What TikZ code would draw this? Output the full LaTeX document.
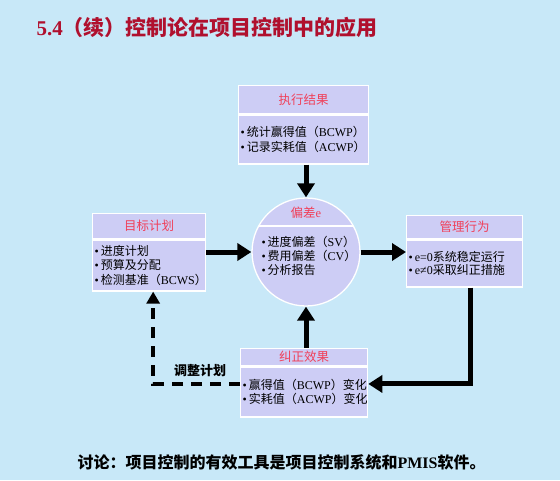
\documentclass[tikz,border=0pt]{standalone}
\usepackage{fontspec}
\setmainfont{Noto Sans CJK SC}
\newfontfamily\lat{Liberation Serif}
\usetikzlibrary{positioning,arrows.meta}
\definecolor{cceeff}{rgb}{0.784,0.910,0.973}
\definecolor{ccccff}{rgb}{0.804,0.804,0.961}
\definecolor{ffzztt}{rgb}{0.941,0.251,0.353}
\definecolor{bbqqzz}{rgb}{0.690,0.063,0.180}
\newcommand{\la}[1]{{\lat #1}}
\newcommand{\bl}{{\lat\textbullet}\,}
\tikzset{
  hdr/.style={draw=white,line width=1.3pt,fill=ccccff,text=ffzztt,inner sep=0pt,font=\fontsize{12.5}{14}\selectfont},
  bodybox/.style={draw=white,line width=1.3pt,fill=ccccff,inner sep=2pt,align=left,font=\fontsize{12}{15.5}\selectfont},
  bigarrow/.style={line width=5pt,-{Triangle[width=17pt,length=14pt]}},
  dasharrow/.style={line width=4pt,dash pattern=on 11pt off 8pt,-{Triangle[width=13pt,length=12pt]}}
}
\begin{document}
\begin{tikzpicture}[line cap=butt,line join=miter,x=1pt,y=-1pt]
\fill[cceeff] (0,0) rectangle (560,480);
\useasboundingbox (0,0) rectangle (560,480);
% title
\node[anchor=west,text=bbqqzz,font=\fontsize{21}{24}\selectfont\bfseries] (title) at (33,27) {\la{5.4}（续）控制论在项目控制中的应用};
% boxes
\node[hdr,minimum width=130pt,minimum height=28pt,anchor=north west] (resulthdr) at (238,85) {执行结果};
\node[bodybox,minimum width=130pt,minimum height=49pt,text width=126pt,below=0pt of resulthdr] (result) {\bl 统计赢得值（\la{BCWP}）\\[-1pt]\bl 记录实耗值（\la{ACWP}）};
\node[hdr,minimum width=113pt,minimum height=25pt,anchor=north west] (planhdr) at (92,213) {目标计划};
\node[bodybox,minimum width=113pt,minimum height=51pt,text width=109pt,below=0pt of planhdr] (plan) {\bl 进度计划\\[-1pt]\bl 预算及分配\\[-1pt]\bl 检测基准（\la{BCWS}）};
\node[hdr,minimum width=116pt,minimum height=23pt,anchor=north west] (acthdr) at (406,215) {管理行为};
\node[bodybox,minimum width=116pt,minimum height=47pt,text width=112pt,below=0pt of acthdr] (act) {\bl\la{e=0}系统稳定运行\\[-3pt]\bl\la{e≠0}采取纠正措施};
\node[hdr,minimum width=127pt,minimum height=17pt,anchor=north west] (fixhdr) at (240,348) {纠正效果};
\node[bodybox,minimum width=127pt,minimum height=50pt,text width=123pt,below=0pt of fixhdr] (fix) {\bl 赢得值（\la{BCWP}）变化\\[-1pt]\bl 实耗值（\la{ACWP}）变化};
% deviation circle
\node[circle,draw=white,line width=1.3pt,fill=ccccff,minimum size=108pt] (dev) at (306,252) {};
\draw[white,line width=1.3pt] (258.7,226) -- (353.3,226);
\node[text=ffzztt,font=\fontsize{12.5}{14}\selectfont] (devhdr) at (306,213) {偏差\la{e}};
\node[align=left,anchor=west,font=\fontsize{12}{14}\selectfont] (devtxt) at (258,256) {\bl 进度偏差（\la{SV}）\\\bl 费用偏差（\la{CV}）\\\bl 分析报告};
% arrows
\draw[bigarrow] (dev.north |- result.south) -- (dev.north);
\draw[bigarrow] (plan.north east |- dev.center) -- (dev.west);
\draw[bigarrow] (dev.east) -- (act.north west |- dev.center);
\draw[bigarrow] (dev.south |- fixhdr.north) -- (dev.south);
\draw[bigarrow] ([xshift=6pt]act.south) |- ([yshift=8pt]fix.east);
\draw[dasharrow] ([yshift=8pt]fix.west) -| ([xshift=4pt]plan.south);
\node[font=\fontsize{13}{15}\selectfont\bfseries] (adjust) at (200,371) {调整计划};
% discussion
\node[anchor=west,font=\fontsize{16}{19}\selectfont\bfseries] (note) at (74,462) {讨论：项目控制的有效工具是项目控制系统和\la{PMIS}软件。};
\end{tikzpicture}
\end{document}
